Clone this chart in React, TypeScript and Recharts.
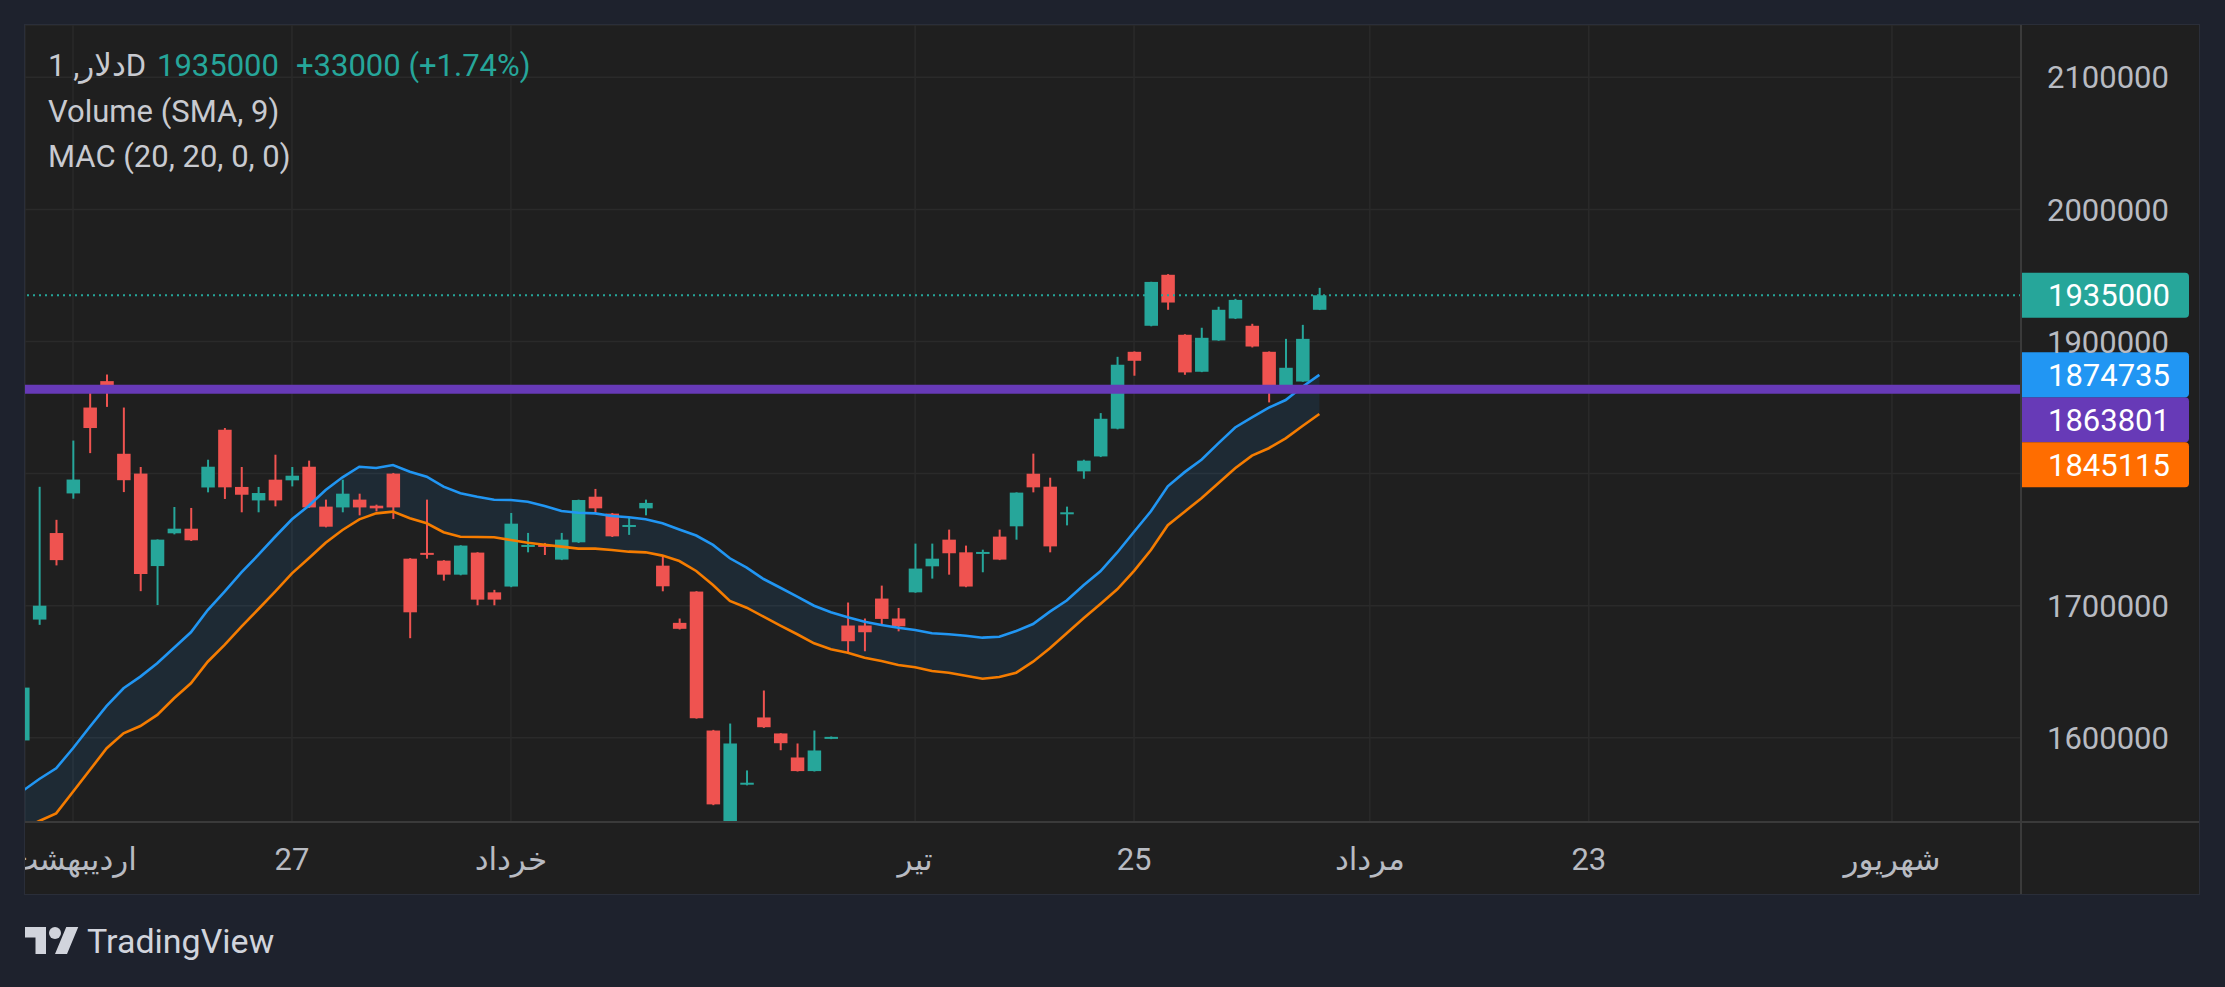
import React from 'react';
import {
  ComposedChart,
  Bar,
  Line,
  Area,
  XAxis,
  YAxis,
  CartesianGrid,
  ReferenceLine
} from 'recharts';

// daily candles, index 0 = first visible bar
const OPENS = [
  1598000, 1689500, 1755000, 1785000, 1850000, 1870000, 1815000, 1800000, 1730000, 1754800,
  1758300, 1789500, 1833200, 1789900, 1779700, 1795400, 1794900, 1805200, 1775000, 1774400,
  1780300, 1775700, 1800000, 1735600, 1740000, 1734100, 1723500, 1740200, 1710100, 1714500,
  1744700, 1746000, 1734900, 1748000, 1782500, 1769700, 1759800, 1773700, 1730300, 1687000,
  1710700, 1605500, 1532000, 1564500, 1615400, 1603300, 1585100, 1574800, 1599300, 1685000,
  1685000, 1705400, 1690300, 1710100, 1729800, 1750000, 1740400, 1739400, 1752300, 1760100,
  1799900, 1790100, 1769500, 1801700, 1813000, 1834000, 1892200, 1911900, 1950500, 1905100,
  1877100, 1900800, 1917400, 1911900, 1892200, 1863700, 1869700, 1924000
];
const HIGHS = [
  1640000, 1790000, 1765000, 1825000, 1861000, 1875000, 1850000, 1805000, 1750200, 1774700,
  1774000, 1810500, 1834500, 1805000, 1789900, 1814300, 1805000, 1809800, 1780300, 1795400,
  1784800, 1776500, 1800500, 1736000, 1780300, 1734500, 1745800, 1740500, 1712000, 1770200,
  1755100, 1747500, 1755100, 1780300, 1788400, 1770200, 1766400, 1780300, 1736900, 1690300,
  1711000, 1606000, 1610800, 1575300, 1635800, 1603500, 1595700, 1605500, 1601000, 1702400,
  1690300, 1715200, 1698300, 1747000, 1747000, 1757600, 1745500, 1742400, 1757600, 1785800,
  1815100, 1796900, 1775000, 1810500, 1845800, 1888400, 1892500, 1945200, 1951000, 1905500,
  1910400, 1926300, 1932300, 1913400, 1892500, 1902000, 1912600, 1940600
];
const LOWS = [
  1596000, 1685500, 1730500, 1781000, 1815500, 1850500, 1786000, 1711000, 1700500, 1754000,
  1749000, 1785800, 1780800, 1770700, 1770700, 1775200, 1790300, 1774000, 1759300, 1770700,
  1768400, 1771400, 1765700, 1675400, 1735600, 1719000, 1723000, 1700300, 1700300, 1714000,
  1740400, 1738400, 1734500, 1747500, 1770000, 1752000, 1753600, 1768400, 1710900, 1682000,
  1614500, 1549000, 1530000, 1564000, 1607500, 1590600, 1574500, 1574500, 1599000, 1664300,
  1665500, 1685200, 1680600, 1709800, 1720500, 1723500, 1714000, 1725300, 1734500, 1750000,
  1785800, 1740400, 1760800, 1796100, 1812500, 1833500, 1874100, 1911500, 1924000, 1874800,
  1876800, 1900500, 1917000, 1895500, 1853900, 1863500, 1869500, 1923800
];
const CLOSES = [
  1638000, 1700000, 1734500, 1795500, 1834500, 1866500, 1795000, 1724000, 1750000, 1758300,
  1749500, 1805200, 1789600, 1784000, 1785300, 1779700, 1798400, 1774400, 1759800, 1784800,
  1774400, 1773700, 1774400, 1695000, 1738900, 1723500, 1745500, 1704600, 1704600, 1762100,
  1746000, 1744700, 1750000, 1780000, 1773700, 1752500, 1761100, 1777800, 1714700, 1682500,
  1614800, 1549600, 1595700, 1566000, 1608000, 1595900, 1574800, 1590400, 1600700, 1673100,
  1679900, 1690000, 1684400, 1728100, 1735600, 1739700, 1714500, 1740700, 1734900, 1785600,
  1789600, 1744900, 1770700, 1809800, 1841500, 1882400, 1885400, 1945100, 1929500, 1876600,
  1902800, 1924000, 1931500, 1896200, 1864500, 1880100, 1902000, 1935000
];

// MAC (20, 20, 0, 0) upper / lower band
const MAC_UPPER = [
  1559700, 1568800, 1576900, 1592100, 1608400, 1624100, 1637500, 1646300, 1656400, 1668200,
  1679900, 1696700, 1710600, 1725300, 1738400, 1752200, 1765400, 1775700, 1787600, 1797200,
  1805200, 1804200, 1806500, 1801400, 1797700, 1790100, 1785100, 1782500, 1780200, 1780000,
  1778700, 1775500, 1771700, 1770400, 1769900, 1767900, 1766900, 1765400, 1762400, 1757700,
  1753100, 1746000, 1735900, 1728800, 1720200, 1713600, 1706800, 1700000, 1695000, 1691200,
  1687900, 1685400, 1683300, 1681600, 1679100, 1678400, 1677300, 1675800, 1676500, 1680800,
  1686100, 1695500, 1703900, 1715400, 1726000, 1740300, 1756000, 1771500, 1790400, 1801100,
  1810500, 1822900, 1834900, 1842600, 1849900, 1855700, 1865800, 1874735
];
const MAC_LOWER = [
  1531000, 1537000, 1542800, 1559200, 1575600, 1592100, 1603400, 1608900, 1617300, 1629900,
  1641300, 1657600, 1670300, 1684100, 1697300, 1710600, 1724500, 1735900, 1747700, 1757300,
  1765400, 1769900, 1771200, 1766200, 1762400, 1755600, 1752200, 1752000, 1751800, 1749700,
  1747700, 1746200, 1744700, 1743200, 1743200, 1742200, 1740900, 1740400, 1737900, 1733800,
  1726300, 1715700, 1703600, 1698500, 1691700, 1684900, 1678400, 1671500, 1667000, 1664400,
  1660600, 1658100, 1655100, 1653400, 1650600, 1649300, 1647000, 1644700, 1646000, 1649300,
  1657600, 1667800, 1679100, 1690500, 1701300, 1712400, 1726400, 1742200, 1760900, 1771200,
  1781300, 1792700, 1804000, 1813600, 1819200, 1826700, 1836000, 1845115
];

const PRICE_TICKS = [1600000, 1700000, 1800000, 1900000, 2000000, 2100000];
const TIME_TICKS = [3, 16, 29, 53, 66, 80, 93, 111];
const TIME_LABELS = ['اردیبهشت', '27', 'خرداد', 'تیر', '25', 'مرداد', '23', 'شهریور'];

const LAST_PRICE = 1935000;
const HLINE_PRICE = 1863801;

const UP = '#26a69a';
const DOWN = '#ef5350';
const BLUE = '#2196f3';
const ORANGE_LINE = '#f57c00';
const ORANGE_TAG = '#ff6d00';
const PURPLE = '#673ab7';
const AXIS_TEXT = '#b8bbc2';

const Y_MIN = 1536260;
const Y_MAX = 2139590;
const X_MIN = 0.15;
const X_MAX = 118.66;

const CHART_W = 2174;
const CHART_H = 869;
const AXIS_W = 178;
const AXIS_H = 72;
const PLOT_H = CHART_H - AXIS_H;
const TAG_H = 45;
const TAG_W = 168;
const FONT = "Roboto, 'DejaVu Sans', sans-serif";

const data = OPENS.map((open, i) => ({
  i,
  open,
  high: HIGHS[i],
  low: LOWS[i],
  close: CLOSES[i],
  upper: MAC_UPPER[i],
  lower: MAC_LOWER[i]
}));

// price tags on the right axis, pushed down when they would overlap
const TAGS = [
  { value: LAST_PRICE, color: UP },
  { value: MAC_UPPER[MAC_UPPER.length - 1], color: BLUE },
  { value: HLINE_PRICE, color: PURPLE },
  { value: MAC_LOWER[MAC_LOWER.length - 1], color: ORANGE_TAG }
];
const pxPerValue = PLOT_H / (Y_MAX - Y_MIN);
const tagShift: Record<number, number> = {};
const tagRanges: [number, number][] = [];
let prevBottom = -Infinity;
TAGS.forEach((t) => {
  const natural = (Y_MAX - t.value) * pxPerValue - TAG_H / 2;
  const top = Math.max(natural, prevBottom);
  tagShift[t.value] = top - natural;
  tagRanges.push([top, top + TAG_H]);
  prevBottom = top + TAG_H;
});

const priceTag = (value: number, color: string) => (props: any) => {
  const vb = props.viewBox;
  if (!vb) return null;
  const x = vb.x + vb.width;
  const y = vb.y - TAG_H / 2 + (tagShift[value] || 0);
  const r = 4;
  const d = `M${x},${y} H${x + TAG_W - r} Q${x + TAG_W},${y} ${x + TAG_W},${y + r} V${y + TAG_H - r} Q${x + TAG_W},${y + TAG_H} ${x + TAG_W - r},${y + TAG_H} H${x} Z`;
  return (
    <g>
      <path d={d} fill={color} />
      <text x={x + 27} y={y + TAG_H / 2} dy="0.36em" fill="#ffffff" fontSize={31} fontFamily={FONT}>
        {String(value)}
      </text>
    </g>
  );
};

// axis labels hidden under a price tag are not drawn
const PriceTick = (props: any) => {
  const { x, y, payload } = props;
  if (tagRanges.some(([a, b]) => y > a && y < b)) return <g />;
  return (
    <text x={x} y={y} dy="0.36em" fill={AXIS_TEXT} fontSize={31} fontFamily={FONT} textAnchor="start">
      {payload.value}
    </text>
  );
};

const Candle = (props: any) => {
  const { x, y, width, height, payload } = props;
  if (x == null || y == null || !payload) return null;
  const { open, close, high, low } = payload;
  const top = Math.min(y, y + height);
  const h = Math.abs(height);
  const ratio = h / (high - low);
  const yOpen = top + (high - open) * ratio;
  const yClose = top + (high - close) * ratio;
  const color = close >= open ? UP : DOWN;
  const bodyTop = Math.min(yOpen, yClose);
  const bodyH = Math.max(Math.abs(yOpen - yClose), 2);
  const cx = x + width / 2;
  return (
    <g>
      <line x1={cx} x2={cx} y1={top} y2={top + h} stroke={color} strokeWidth={2} />
      <rect x={x} y={bodyTop} width={width} height={bodyH} fill={color} />
    </g>
  );
};

export default function App() {
  const legendLine = { position: 'absolute' as const, fontSize: 31, lineHeight: 1, whiteSpace: 'nowrap' as const };
  return (
    <div
      style={{
        position: 'absolute',
        left: 0,
        top: 0,
        width: 2225,
        height: 987,
        background: '#1e222d',
        fontFamily: FONT,
        overflow: 'hidden'
      }}
    >
      <div
        style={{
          position: 'absolute',
          left: 25,
          top: 25,
          width: CHART_W,
          height: CHART_H,
          background: '#1f1f1f',
          boxShadow: '0 0 0 1px #2a2e39'
        }}
      >
        <ComposedChart
          width={CHART_W}
          height={CHART_H}
          data={data}
          margin={{ top: 0, right: 0, bottom: 0, left: 0 }}
          style={{ fontFamily: FONT }}
        >
          <CartesianGrid stroke="#2a2a2a" strokeWidth={1.5} />
          <XAxis
            dataKey="i"
            type="number"
            domain={[X_MIN, X_MAX]}
            allowDataOverflow
            ticks={TIME_TICKS}
            interval={0}
            tickFormatter={(v: number) => TIME_LABELS[TIME_TICKS.indexOf(v)] ?? ''}
            height={AXIS_H}
            axisLine={false}
            tickLine={false}
            tickSize={0}
            tickMargin={26}
            tick={{ fill: AXIS_TEXT, fontSize: 31 }}
          />
          <YAxis
            type="number"
            orientation="right"
            domain={[Y_MIN, Y_MAX]}
            allowDataOverflow
            ticks={PRICE_TICKS}
            interval={0}
            width={AXIS_W}
            axisLine={false}
            tickLine={false}
            tickSize={0}
            tickMargin={26}
            tick={PriceTick}
          />
          <Area
            type="linear"
            dataKey={(d: any) => [d.lower, d.upper]}
            stroke="none"
            fill={BLUE}
            fillOpacity={0.1}
            isAnimationActive={false}
          />
          <Bar
            dataKey={(d: any) => [d.low, d.high]}
            barSize={13.5}
            shape={Candle}
            isAnimationActive={false}
          />
          <Line
            type="linear"
            dataKey="upper"
            stroke={BLUE}
            strokeWidth={2.6}
            dot={false}
            activeDot={false}
            isAnimationActive={false}
          />
          <Line
            type="linear"
            dataKey="lower"
            stroke={ORANGE_LINE}
            strokeWidth={2.6}
            dot={false}
            activeDot={false}
            isAnimationActive={false}
          />
          <ReferenceLine
            y={LAST_PRICE}
            stroke={UP}
            strokeWidth={2}
            strokeDasharray="2 4"
            label={priceTag(LAST_PRICE, UP)}
          />
          <ReferenceLine
            y={HLINE_PRICE}
            stroke={PURPLE}
            strokeWidth={9}
            label={priceTag(HLINE_PRICE, PURPLE)}
          />
          <ReferenceLine
            y={MAC_UPPER[MAC_UPPER.length - 1]}
            stroke="none"
            strokeOpacity={0}
            label={priceTag(MAC_UPPER[MAC_UPPER.length - 1], BLUE)}
          />
          <ReferenceLine
            y={MAC_LOWER[MAC_LOWER.length - 1]}
            stroke="none"
            strokeOpacity={0}
            label={priceTag(MAC_LOWER[MAC_LOWER.length - 1], ORANGE_TAG)}
          />
        </ComposedChart>

        {/* pane separators */}
        <div style={{ position: 'absolute', left: 0, top: PLOT_H - 1, width: CHART_W, height: 2, background: '#3a3a3a' }} />
        <div style={{ position: 'absolute', left: CHART_W - AXIS_W - 1, top: 0, width: 2, height: CHART_H, background: '#3a3a3a' }} />
      </div>

      {/* legend */}
      <div style={{ ...legendLine, left: 48, top: 50, color: '#c8cad0' }}>دلار, 1D</div>
      <div style={{ ...legendLine, left: 157, top: 50, color: UP }}>1935000</div>
      <div style={{ ...legendLine, left: 296, top: 50, color: UP }}>+33000 (+1.74%)</div>
      <div style={{ ...legendLine, left: 48, top: 96, color: '#c8cad0' }}>Volume (SMA, 9)</div>
      <div style={{ ...legendLine, left: 48, top: 141, color: '#c8cad0' }}>MAC (20, 20, 0, 0)</div>

      {/* watermark */}
      <svg style={{ position: 'absolute', left: 25, top: 921 }} width={54} height={42} viewBox="0 0 36 28">
        <path d="M14 22H7V11H0V4h14v18zM28 22h-8l7.5-18h8L28 22z" fill="#d1d4dc" />
        <circle cx={20} cy={8} r={4} fill="#d1d4dc" />
      </svg>
      <div style={{ position: 'absolute', left: 87, top: 924, fontSize: 34, lineHeight: 1, color: '#d1d4dc' }}>
        TradingView
      </div>
    </div>
  );
}
